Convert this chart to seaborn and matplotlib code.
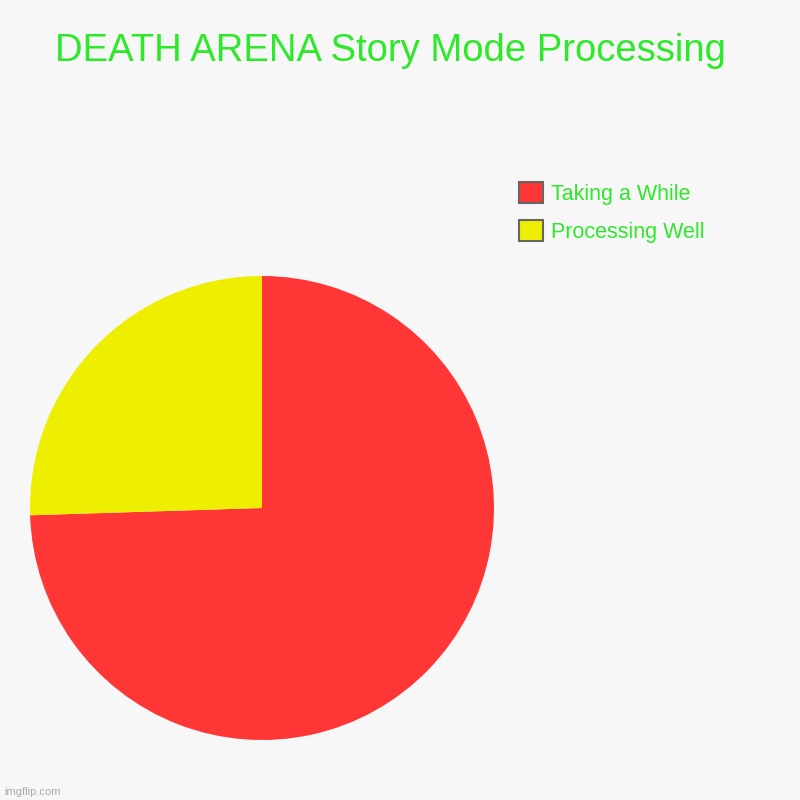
import matplotlib
matplotlib.use("Agg")
import matplotlib.pyplot as plt
import seaborn as sns
from matplotlib.patches import Patch

labels = ["Taking a While", "Processing Well"]
values = [74.5, 25.5]
colors = ["#ff3636", "#eeee00"]
title = "DEATH ARENA Story Mode Processing"
green = "#2ee82a"
bg = "#f7f7f7"

sns.set_theme(style="white")
plt.rcParams['font.family'] = ['Liberation Sans', 'DejaVu Sans']

fig = plt.figure(figsize=(8, 8), dpi=100, facecolor=bg)
ax = fig.add_axes([0.0375, 0.075, 0.58, 0.58])
ax.set_facecolor(bg)
wedges, _ = ax.pie(values, colors=colors, startangle=90, counterclock=False,
                   wedgeprops=dict(linewidth=0))
ax.set_aspect('equal')
ax.set_xlim(-1, 1)
ax.set_ylim(-1, 1)
ax.axis('off')

fig.text(55 / 800, 1 - 61 / 800, title, color=green, fontsize=27.5, ha='left', va='baseline')

handles = [Patch(facecolor=c, edgecolor="#666666", linewidth=1.5) for c in colors]
fig.legend(handles, labels, loc='upper left', bbox_to_anchor=(510 / 800, 1 - 173 / 800),
           frameon=False, fontsize=15.5, labelcolor=green, handlelength=1.15, handleheight=1.15,
           handletextpad=0.35, labelspacing=0.7, borderaxespad=0)

fig.text(4 / 800, 1 - 795 / 800, "imgflip.com", color="#aaaaaa", fontsize=8, ha='left', va='baseline')

fig.savefig("out.png", dpi=100, facecolor=bg)
